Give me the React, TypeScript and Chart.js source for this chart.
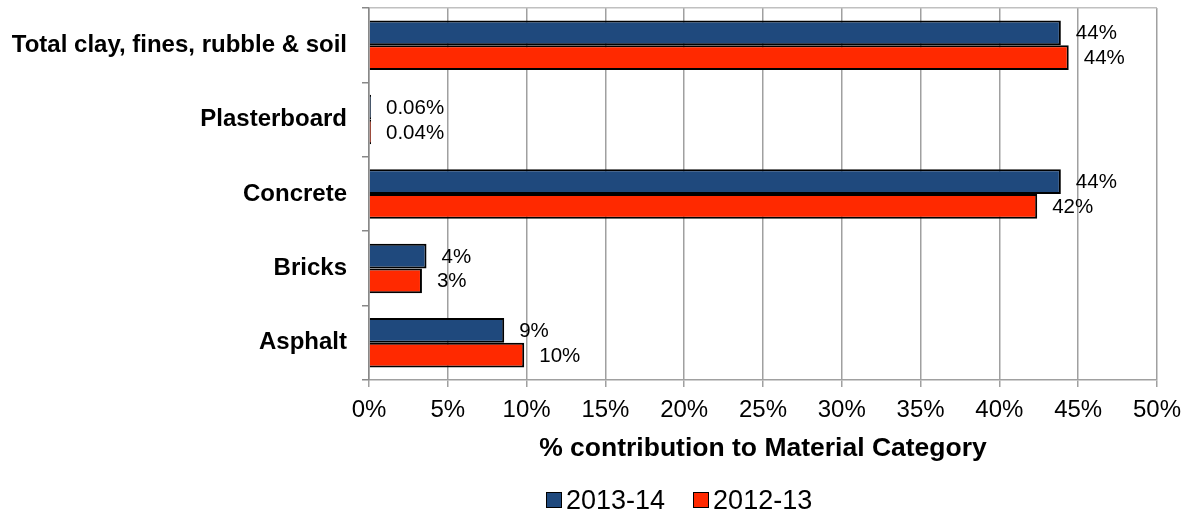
import React, { useEffect, useRef } from "react";
import { Chart, registerables } from "chart.js";

Chart.register(...registerables);

const categories = ["Total clay, fines, rubble & soil", "Plasterboard", "Concrete", "Bricks", "Asphalt"];
const seriesNames = ["2013-14", "2012-13"];
const values2013 = [43.9, 0.06, 43.9, 3.65, 8.58];
const values2012 = [44.4, 0.04, 42.4, 3.36, 9.85];
const seriesColors = ["#1F497D", "#FF2900"];
const xTicks = [0, 5, 10, 15, 20, 25, 30, 35, 40, 45, 50];
const axisTitle = "% contribution to Material Category";

const FONT = '"Liberation Sans", Arial, sans-serif';

const fmt = (v: number) => (v < 1 ? v.toFixed(2) : String(Math.round(v))) + "%";

const valueLabels = {
  id: "valueLabels",
  afterDatasetsDraw(chart: any) {
    const ctx = chart.ctx;
    ctx.save();
    ctx.font = `20.5px ${FONT}`;
    ctx.fillStyle = "#000";
    ctx.textAlign = "left";
    ctx.textBaseline = "middle";
    chart.data.datasets.forEach((ds: any, di: number) => {
      const meta = chart.getDatasetMeta(di);
      meta.data.forEach((el: any, i: number) => {
        ctx.fillText(fmt(ds.data[i]), el.x + 15, el.y + 1);
      });
    });
    ctx.restore();
  },
};

export default function App() {
  const ref = useRef<HTMLCanvasElement>(null);
  useEffect(() => {
    if (!ref.current) return;
    const common = {
      borderColor: "#000",
      borderWidth: 2,
      categoryPercentage: 0.665,
      barPercentage: 1,
      minBarLength: 2,
    };
    const chart = new Chart(ref.current, {
      type: "bar",
      data: {
        labels: categories,
        datasets: [
          { label: seriesNames[0], data: values2013, backgroundColor: seriesColors[0], ...common },
          { label: seriesNames[1], data: values2012, backgroundColor: seriesColors[1], ...common },
        ],
      },
      options: {
        indexAxis: "y",
        responsive: false,
        animation: false,
        layout: { padding: { top: 8, right: 33, left: 0, bottom: 0 } },
        plugins: { legend: { display: false }, tooltip: { enabled: false } },
        scales: {
          x: {
            min: 0,
            max: 50,
            afterFit: (s: any) => {
              s.height = 136;
            },
            afterBuildTicks: (s: any) => {
              s.ticks = xTicks.map((v) => ({ value: v }));
            },
            ticks: {
              color: "#000",
              font: { family: FONT, size: 24 },
              padding: 9,
              callback: (v: any) => v + "%",
              maxRotation: 0,
              autoSkip: false,
            },
            grid: { color: "#a0a0a0", lineWidth: 1.5, tickLength: 7, tickColor: "#a0a0a0" },
            border: { color: "#a0a0a0", width: 1.5 },
            title: {
              display: true,
              text: axisTitle,
              color: "#000",
              font: { family: FONT, size: 26.5, weight: "bold" },
              padding: { top: 0, bottom: 51 },
            },
          },
          y: {
            afterFit: (s: any) => {
              s.width = 369;
              s.paddingTop = 0;
              s.paddingBottom = 0;
            },
            ticks: {
              color: "#000",
              font: { family: FONT, size: 24, weight: "bold" },
              padding: 15,
            },
            grid: {
              offset: true,
              drawOnChartArea: true,
              color: (c: any) => (c.index === 0 ? "#c0c0c0" : "rgba(0,0,0,0)"),
              tickColor: "#888",
              tickLength: 7,
              lineWidth: 1.5,
            },
            border: { color: "#888", width: 1.5 },
          },
        },
      },
      plugins: [valueLabels],
    } as any);
    return () => chart.destroy();
  }, []);

  const legendItem = (name: string, color: string, ml: number) => (
    <div key={name} style={{ display: "flex", alignItems: "center", marginLeft: ml }}>
      <div
        style={{
          width: 16,
          height: 16,
          boxSizing: "border-box",
          border: "1px solid #000",
          background: color,
          marginRight: 4,
        }}
      />
      <span style={{ fontFamily: FONT, fontSize: 27, color: "#000", lineHeight: "32px" }}>{name}</span>
    </div>
  );

  return (
    <div style={{ position: "absolute", left: 0, top: 0, width: 1190, height: 516 }}>
      <canvas ref={ref} width={1190} height={516} style={{ display: "block" }} />
      <div style={{ position: "absolute", left: 546, top: 484, height: 32, display: "flex", alignItems: "center" }}>
        {legendItem(seriesNames[0], seriesColors[0], 0)}
        {legendItem(seriesNames[1], seriesColors[1], 28)}
      </div>
    </div>
  );
}
